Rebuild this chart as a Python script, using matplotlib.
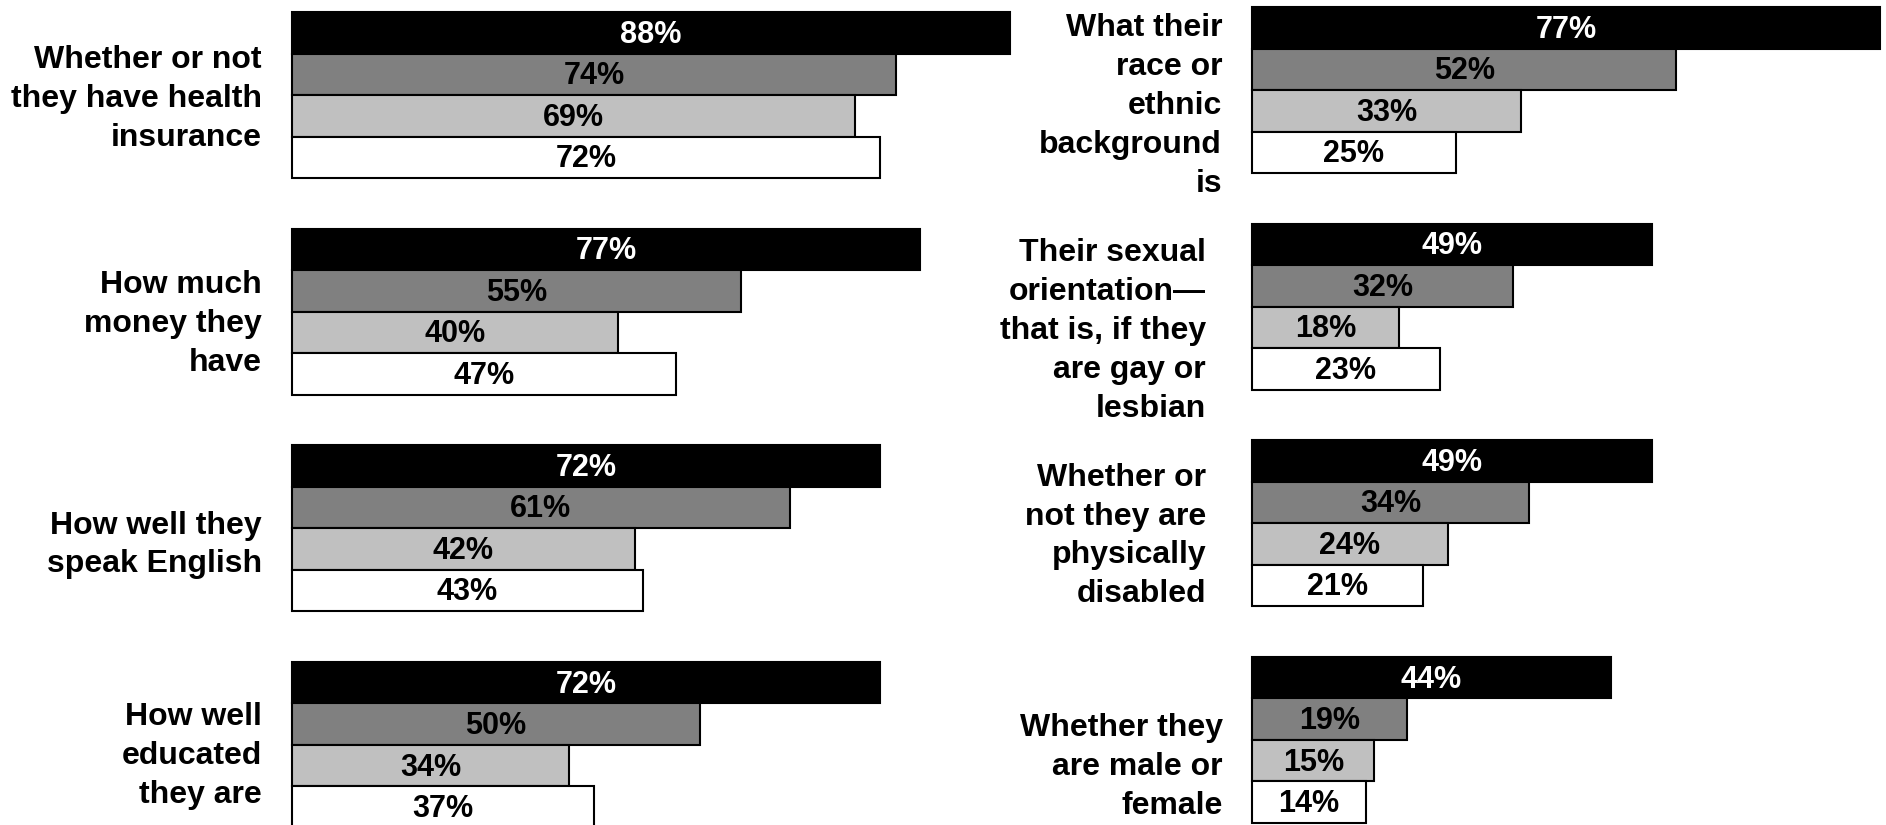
import matplotlib
matplotlib.use("Agg")
import matplotlib.pyplot as plt

# series order within each group, top to bottom
series_colors = ["#000000", "#808080", "#c0c0c0", "#ffffff"]
text_colors = ["white", "black", "black", "black"]

left_labels = [
    "Whether or not\nthey have health\ninsurance",
    "How much\nmoney they\nhave",
    "How well they\nspeak English",
    "How well\neducated\nthey are",
]
left_values = [
    [88, 74, 69, 72],
    [77, 55, 40, 47],
    [72, 61, 42, 43],
    [72, 50, 34, 37],
]

right_labels = [
    "What their\nrace or\nethnic\nbackground\nis",
    "Their sexual\norientation\u2014\nthat is, if they\nare gay or\nlesbian",
    "Whether or\nnot they are\nphysically\ndisabled",
    "Whether they\nare male or\nfemale",
]
right_values = [
    [77, 52, 33, 25],
    [49, 32, 18, 23],
    [49, 34, 24, 21],
    [44, 19, 15, 14],
]

W, H = 1886, 825
PX_PER_PCT = 8.16
BAR_H = 41.5
PITCH = 216.6

plt.rcParams["font.family"] = ["Liberation Sans", "DejaVu Sans"]
plt.rcParams["font.weight"] = "bold"

fig = plt.figure(figsize=(W / 100, H / 100), dpi=100)


def panel(x0, top0, labels, values, label_x, label_y):
    width_px = W - x0
    ax = fig.add_axes([x0 / W, 0, width_px / W, 1])
    ax.set_xlim(0, width_px / PX_PER_PCT)
    ax.set_ylim(H, 0)
    ax.axis("off")
    for g, vals in enumerate(values):
        for i, v in enumerate(vals):
            yc = top0 + g * PITCH + (i + 0.5) * BAR_H
            ax.barh(yc, v, height=BAR_H, color=series_colors[i],
                    edgecolor="black", linewidth=1.5, clip_on=False)
            ax.text(v / 2, yc + 2, f"{v}%", ha="center", va="center",
                    fontsize=22, fontweight="bold", color=text_colors[i])
        ax.text((label_x[g] - x0) / PX_PER_PCT, label_y[g], labels[g],
                ha="right", va="center", fontsize=23, fontweight="bold",
                linespacing=1.39, clip_on=False)
    return ax


panel(292, 12, left_labels, left_values,
      [262, 262, 262, 262], [99, 324, 545, 756])
panel(1252, 7, right_labels, right_values,
      [1222, 1206, 1206, 1223], [106, 331, 536, 767])

fig.savefig("out.png", dpi=100)
